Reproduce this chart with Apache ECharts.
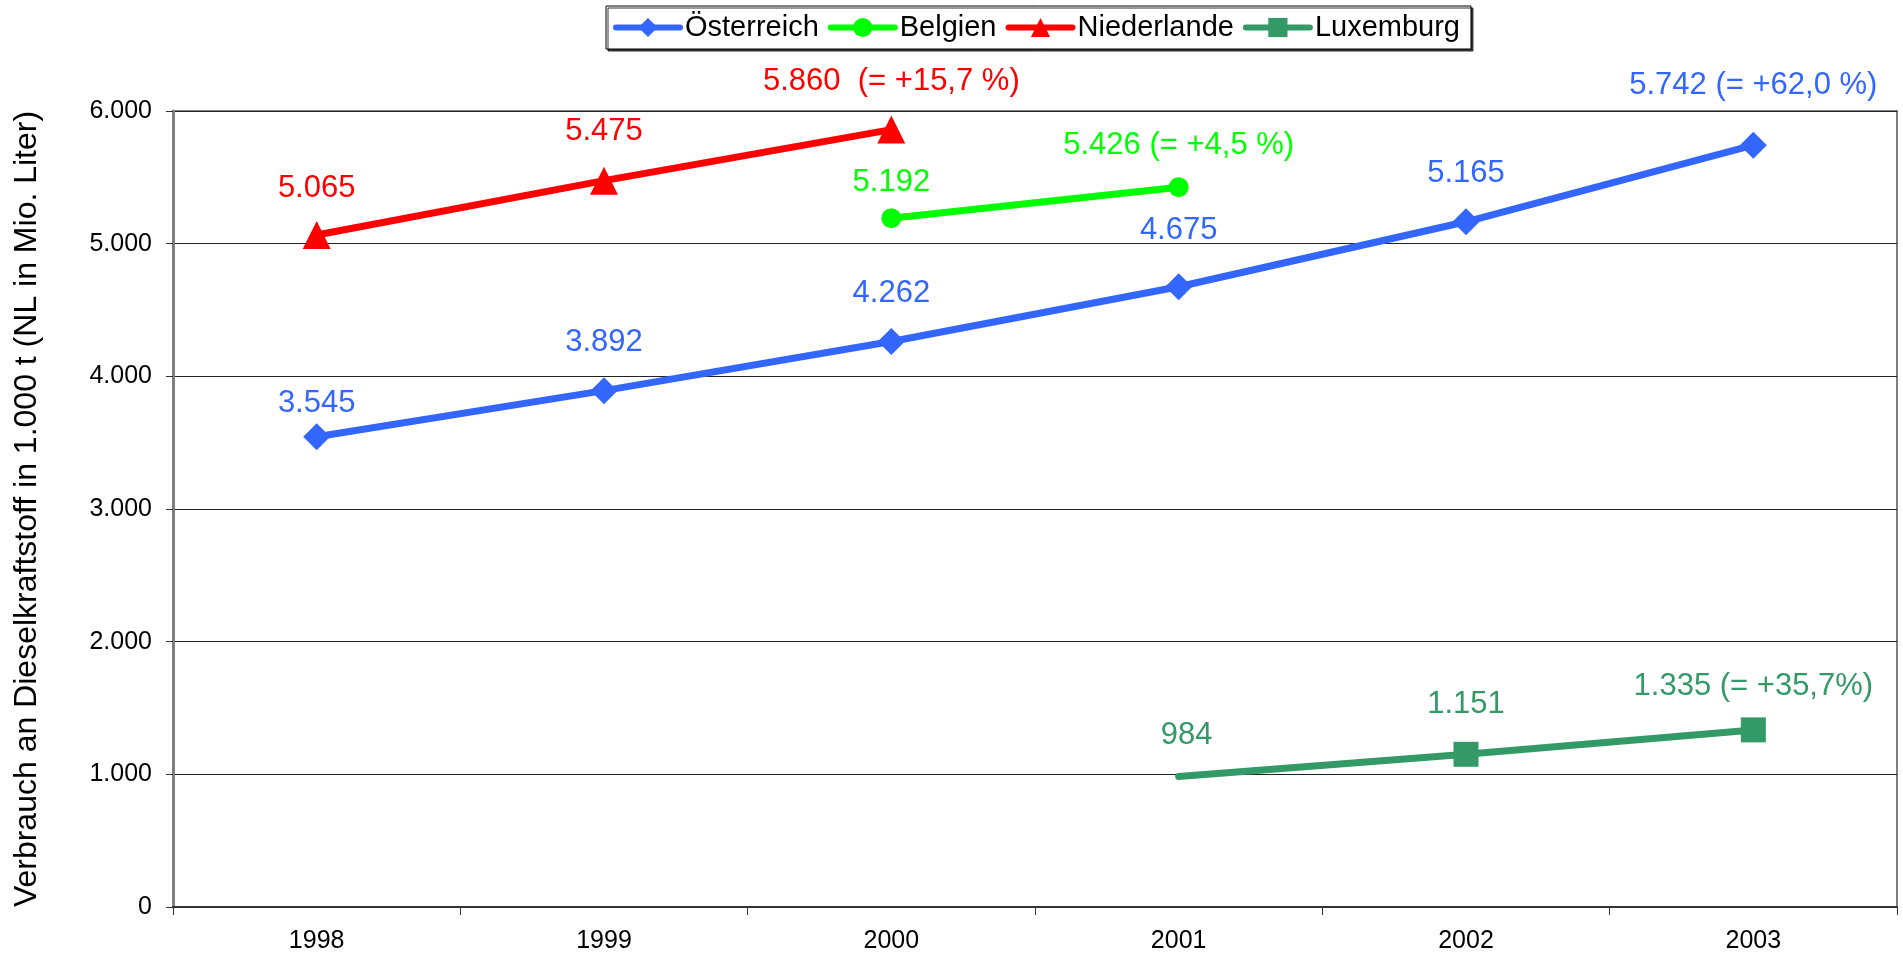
<!DOCTYPE html>
<html>
<head>
<meta charset="utf-8">
<script src="https://cdn.jsdelivr.net/npm/echarts@6/dist/echarts.min.js"></script>
<style>
  html, body { margin: 0; padding: 0; background: #fff; }
  #main { width: 1903px; height: 960px; }
</style>
</head>
<body>
<div id="main"></div>
<script>
  // Werte (1.000 t, NL in Mio. Liter)
  const years = ['1998', '1999', '2000', '2001', '2002', '2003'];
  const oesterreich = [3545, 3892, 4262, 4675, 5165, 5742];
  const belgien = [null, null, 5192, 5426, null, null];
  const niederlande = [5065, 5475, 5860, null, null, null];
  const luxemburg = [null, null, null, 984, 1151, 1335];

  // Zusatztexte an den Beschriftungen
  const oesterreichNote = ['', '', '', '', '', ' (= +62,0 %)'];
  const belgienNote = ['', '', '', ' (= +4,5 %)', '', ''];
  const niederlandeNote = ['', '', '  (= +15,7 %)', '', '', ''];
  const luxemburgNote = ['', '', '', '', '', ' (= +35,7%)'];

  // y-Achse
  const yMin = 0, yMax = 6000, yStep = 1000;

  // Lage der Beschriftungen relativ zum Punkt (nur Layout)
  const shiftOe = [[0, -33], [0, -48], [0, -48], [0, -56], [0, -48], [0, -60]];
  const shiftBe = [null, null, [0, -36], [0, -42], null, null];
  const shiftNl = [[0, -47], [0, -49], [0, -48], null, null, null];
  const shiftLu = [null, null, null, [8, -41], [0, -50], [0, -43]];

  const FONT = '"Liberation Sans", Arial, sans-serif';

  function fmt(v) {
    return String(v).replace(/\B(?=(\d{3})+(?!\d))/g, '.');
  }

  function build(values, notes, shifts, hiddenAt) {
    return values.map(function (v, i) {
      if (v == null) return '-';
      var item = {
        value: v,
        label: { offset: shifts[i], formatter: fmt(v) + notes[i] }
      };
      // erster Luxemburg-Punkt ohne Marker, aber mit Beschriftung
      if (hiddenAt === i) item.itemStyle = { color: 'rgba(0,0,0,0)' };
      return item;
    });
  }

  function lineSeries(name, color, symbol, size, data) {
    return {
      name: name,
      type: 'line',
      data: data,
      symbol: symbol,
      symbolSize: size,
      showAllSymbol: true,
      connectNulls: false,
      lineStyle: { color: color, width: 7, cap: 'round', join: 'round' },
      itemStyle: { color: color },
      label: {
        show: true,
        position: 'inside',
        color: color,
        fontSize: 31,
        fontFamily: FONT
      },
      emphasis: { disabled: true }
    };
  }

  var chart = echarts.init(document.getElementById('main'));
  var option = {
    animation: false,
    backgroundColor: '#fff',
    textStyle: { fontFamily: FONT },
    legend: {
      left: 606,
      top: 6,
      padding: [7, 11, 7, 7],
      itemGap: 9,
      itemWidth: 64,
      itemHeight: 24,
      backgroundColor: '#fff',
      borderColor: '#000',
      borderWidth: 1,
      shadowColor: '#333',
      shadowOffsetX: 2,
      shadowOffsetY: 2,
      shadowBlur: 0,
      lineStyle: { width: 6, cap: 'round' },
      textStyle: { color: '#000', fontSize: 29, fontFamily: FONT },
      data: ['Österreich', 'Belgien', 'Niederlande', 'Luxemburg']
    },
    grid: {
      left: 173,
      right: 6,
      top: 111,
      bottom: 53,
      show: true,
      borderColor: '#808080',
      borderWidth: 2,
      backgroundColor: '#fff'
    },
    xAxis: {
      type: 'category',
      data: years,
      boundaryGap: true,
      axisLine: { lineStyle: { color: '#333', width: 2 } },
      axisTick: { show: true, length: 8, interval: 0, lineStyle: { color: '#333', width: 1 } },
      axisLabel: { color: '#000', fontSize: 25, fontFamily: FONT, margin: 22 },
      splitLine: { show: false }
    },
    yAxis: {
      type: 'value',
      min: yMin,
      max: yMax,
      interval: yStep,
      name: 'Verbrauch an Dieselkraftstoff in 1.000 t (NL in Mio. Liter)',
      nameLocation: 'middle',
      nameGap: 130,
      nameTextStyle: { color: '#000', fontSize: 32, fontFamily: FONT },
      axisLine: { show: true, lineStyle: { color: '#808080', width: 3 } },
      axisTick: { show: true, length: 7, lineStyle: { color: '#333', width: 1 } },
      axisLabel: { color: '#000', fontSize: 25, fontFamily: FONT, margin: 21, formatter: function (v) { return fmt(v); } },
      splitLine: { show: true, lineStyle: { color: '#222', width: 1 } }
    },
    series: [
      lineSeries('Österreich', '#3366FF', 'diamond', 27, build(oesterreich, oesterreichNote, shiftOe)),
      lineSeries('Belgien', '#00FF00', 'circle', 20, build(belgien, belgienNote, shiftBe)),
      lineSeries('Niederlande', '#FF0000', 'triangle', 28, build(niederlande, niederlandeNote, shiftNl)),
      lineSeries('Luxemburg', '#339966', 'rect', 25, build(luxemburg, luxemburgNote, shiftLu, 3))
    ]
  };
  chart.setOption(option);
</script>
</body>
</html>
